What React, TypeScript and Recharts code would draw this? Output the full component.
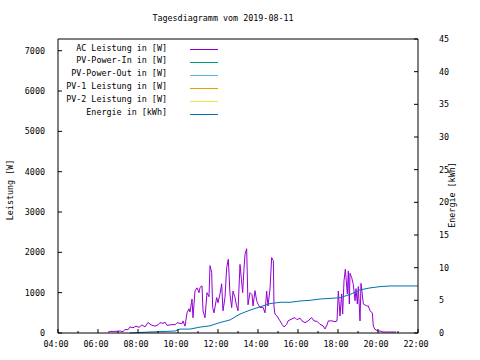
import { LineChart, Line, XAxis, YAxis } from "recharts";

// AC Leistung, minutes since midnight / watts
const acMinutes = [
  390, 396, 411, 426, 435, 441, 450, 456, 465, 474, 483, 492, 501, 510, 516, 522, 531, 540,
  546, 555, 561, 567, 576, 585, 591, 597, 606, 612, 615, 621, 627, 633, 636, 642, 645, 651,
  657, 663, 666, 672, 675, 681, 687, 693, 696, 701, 704, 708, 716, 720, 726, 731, 735, 741,
  746, 751, 756, 761, 765, 771, 775, 780, 786, 790, 794, 798, 801, 806, 810, 816, 822, 825,
  831, 836, 840, 846, 855, 861, 866, 870, 876, 881, 886, 888, 891, 897, 906, 912, 918, 926,
  930, 939, 951, 957, 966, 972, 981, 990, 1001, 1008, 1017, 1026, 1035, 1041, 1047, 1051,
  1062, 1071, 1077, 1081, 1086, 1091, 1094, 1098, 1102, 1108, 1111, 1114, 1116, 1121, 1126,
  1131, 1134, 1138, 1141, 1146, 1149, 1156, 1166, 1171, 1176, 1183, 1186, 1191, 1200, 1206,
  1215, 1236, 1254,
];
const acWatts = [
  20, 40, 40, 50, 30, 90, 80, 150, 130, 170, 140, 200, 150, 260, 220, 190, 170, 200,
  255, 240, 270, 190, 200, 210, 200, 255, 240, 230, 300, 170, 500, 600, 520, 840, 380, 1045,
  1120, 1000, 1130, 1170, 550, 380, 1000, 900, 1670, 1500, 630, 500, 880, 750, 970, 1220, 550, 880,
  1620, 1830, 960, 630, 1040, 880, 700, 550, 1700, 1350, 1000, 1600, 1950, 2090, 700, 1000, 950, 670,
  1050, 800, 720, 630, 640, 500, 1040, 670, 1090, 1870, 1790, 650, 465, 420, 300, 215, 150, 215,
  300, 340, 380, 330, 370, 300, 255, 300, 380, 300, 290, 215, 180, 100, 200, 300,
  300, 280, 300, 1040, 420, 970, 470, 1300, 1580, 970, 1540, 720, 1480, 1375, 1200,
  800, 1100, 720, 1150, 300, 1230, 720, 670, 670, 550, 500, 170, 90, 50, 50,
  25, 25, 25,
];

// Energie, kWh
const energyMinutes = [
  456, 516, 591, 606, 636, 666, 696, 726, 756, 786, 816, 846, 876, 906, 936, 966, 996,
  1026, 1056, 1086, 1116, 1146, 1176, 1206, 1236, 1320,
];
const energyKWh = [
  0, 0.15, 0.3, 0.6, 0.6, 0.9, 1.1, 1.6, 2.0, 2.9, 3.5, 4.0, 4.5, 4.7, 4.7, 4.9, 5.0,
  5.2, 5.3, 5.4, 5.9, 6.6, 6.9, 7.1, 7.2, 7.2,
];

const seriesNames = [
  "AC Leistung in [W]",
  "PV-Power-In in [W]",
  "PV-Power-Out in [W]",
  "PV-1 Leistung in [W]",
  "PV-2 Leistung in [W]",
  "Energie in [kWh]",
];
const seriesColors = ["#9400d3", "#009e73", "#56b4e9", "#e69f00", "#f0e442", "#0072b2"];

const hourTicks = [240, 300, 360, 420, 480, 540, 600, 660, 720, 780, 840, 900, 960, 1020, 1080, 1140, 1200, 1260, 1320];
const wattTicks = [0, 1000, 2000, 3000, 4000, 5000, 6000, 7000];
const kwhTicks = [0, 5, 10, 15, 20, 25, 30, 35, 40, 45];

const acData = acMinutes.map((t, i) => ({ t, ac: acWatts[i] }));
const energyData = energyMinutes.map((t, i) => ({ t, energy: energyKWh[i] }));

const FONT = "'DejaVu Sans Mono', monospace";
const FS = 8.4;

const fmtHour = (m: number) => `${String(Math.floor(m / 60)).padStart(2, "0")}:00`;

const LeftTick = ({ x, y, payload }: any) => (
  <g>
    <line x1={x} x2={x + 4} y1={y} y2={y} stroke="#000" />
    <text x={x - 13} y={y + 3} textAnchor="end" fontFamily={FONT} fontSize={FS} fill="#000">
      {payload.value}
    </text>
  </g>
);

const MirrorTick = ({ x, y }: any) => (
  <line x1={x - 4} x2={x} y1={y} y2={y} stroke="#000" />
);

const RightTick = ({ x, y, payload }: any) => (
  <g>
    <line x1={x - 4} x2={x} y1={y} y2={y} stroke="#000" />
    <text x={x + 21} y={y + 3} textAnchor="start" fontFamily={FONT} fontSize={FS} fill="#000">
      {payload.value}
    </text>
  </g>
);

const BottomTick = ({ x, y, payload }: any) => {
  const even = Math.floor(payload.value / 60) % 2 === 0;
  return (
    <g>
      <line x1={x} x2={x} y1={y} y2={y - (even ? 4 : 2)} stroke="#000" />
      {even && (
        <text x={x - 2} y={y + 14} textAnchor="middle" fontFamily={FONT} fontSize={FS} fill="#000">
          {fmtHour(payload.value)}
        </text>
      )}
    </g>
  );
};

const TopTick = ({ x, y, payload }: any) => {
  const even = Math.floor(payload.value / 60) % 2 === 0;
  return <line x1={x} x2={x} y1={y} y2={y + (even ? 4 : 2)} stroke="#000" />;
};

export default function App() {
  return (
    <div style={{ position: "absolute", left: 0, top: 0, width: 480, height: 360, background: "#fff" }}>
      <LineChart width={480} height={360} margin={{ top: 37, right: 0, bottom: 0, left: 0 }}>
        <XAxis
          xAxisId="bottom"
          dataKey="t"
          type="number"
          domain={[240, 1320]}
          ticks={hourTicks}
          interval={0}
          height={27}
          tickSize={0}
          tickMargin={0}
          tick={<BottomTick />}
          axisLine={{ stroke: "#000" }}
          allowDuplicatedCategory={false}
        />
        <XAxis
          xAxisId="top"
          orientation="top"
          dataKey="t"
          type="number"
          domain={[240, 1320]}
          ticks={hourTicks}
          interval={0}
          height={2}
          tickSize={0}
          tickMargin={0}
          tick={<TopTick />}
          axisLine={{ stroke: "#000" }}
        />
        <YAxis
          yAxisId="left"
          type="number"
          domain={[0, 7290]}
          ticks={wattTicks}
          interval={0}
          width={58}
          tickSize={0}
          tickMargin={0}
          tick={<LeftTick />}
          axisLine={{ stroke: "#000" }}
        />
        <YAxis
          yAxisId="mirror"
          orientation="right"
          type="number"
          domain={[0, 7290]}
          ticks={wattTicks}
          interval={0}
          width={0}
          tickSize={0}
          tickMargin={0}
          tick={<MirrorTick />}
          axisLine={false}
        />
        <YAxis
          yAxisId="right"
          orientation="right"
          type="number"
          domain={[0, 45]}
          ticks={kwhTicks}
          interval={0}
          width={62}
          tickSize={0}
          tickMargin={0}
          tick={<RightTick />}
          axisLine={{ stroke: "#000" }}
        />
        <Line
          xAxisId="bottom"
          yAxisId="left"
          data={acData}
          dataKey="ac"
          type="linear"
          stroke={seriesColors[0]}
          strokeWidth={1}
          dot={false}
          isAnimationActive={false}
        />
        <Line
          xAxisId="bottom"
          yAxisId="right"
          data={energyData}
          dataKey="energy"
          type="linear"
          stroke={seriesColors[5]}
          strokeWidth={1}
          dot={false}
          isAnimationActive={false}
        />
      </LineChart>
      <svg
        width={480}
        height={360}
        style={{ position: "absolute", left: 0, top: 0, pointerEvents: "none" }}
        fontFamily={FONT}
        fontSize={FS}
      >
        <text x={223} y={21} textAnchor="middle" fill="#000">
          Tagesdiagramm vom 2019-08-11
        </text>
        <text x={13} y={190} textAnchor="middle" fill="#000" transform="rotate(-90 13 190)">
          Leistung [W]
        </text>
        <text x={455} y={195} textAnchor="middle" fill="#000" transform="rotate(-90 455 195)">
          Energie [kWh]
        </text>
        {seriesNames.map((name, i) => {
          const ly = Math.round(48.8 + i * 12.95) + 0.5;
          return (
            <g key={name}>
              <text x={167} y={50.5 + i * 12.95} textAnchor="end" fill="#000">
                {name}
              </text>
              <line x1={190} x2={218} y1={ly} y2={ly} stroke={seriesColors[i]} />
            </g>
          );
        })}
      </svg>
    </div>
  );
}
